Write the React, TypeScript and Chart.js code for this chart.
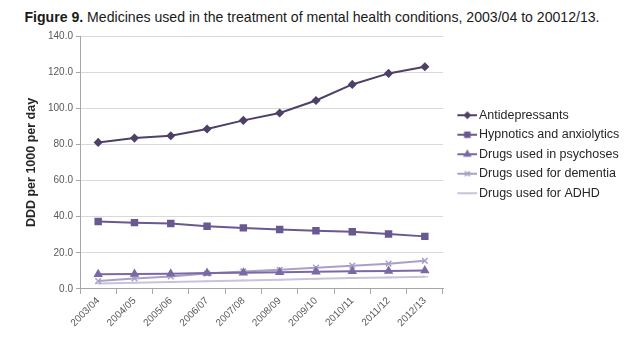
import React, { useEffect, useRef } from 'react';
import { Chart, registerables } from 'chart.js';
import { drawPoint } from 'chart.js/helpers';

Chart.register(...registerables);

const categories = ['2003/04', '2004/05', '2005/06', '2006/07', '2007/08', '2008/09', '2009/10', '2010/11', '2011/12', '2012/13'];
const seriesNames = ['Antidepressants', 'Hypnotics and anxiolytics', 'Drugs used in psychoses', 'Drugs used for dementia', 'Drugs used for ADHD'];
const antidepressants = [81.1, 83.5, 84.8, 88.5, 93.3, 97.4, 104.3, 113.2, 119.3, 123.0];
const hypnotics = [37.3, 36.7, 36.2, 34.7, 33.8, 32.9, 32.2, 31.7, 30.4, 29.1];
const psychoses = [8.2, 8.3, 8.4, 8.8, 9.0, 9.3, 9.5, 9.8, 10.0, 10.2];
const dementia = [4.4, 5.8, 6.9, 8.5, 9.7, 10.6, 11.8, 12.9, 14.0, 15.6];
const adhd = [3.0, 3.4, 3.8, 4.2, 4.7, 5.1, 5.6, 6.0, 6.4, 6.8];
const yMin = 0;
const yMax = 140;
const yStep = 20;
const yTitle = 'DDD per 1000 per day';

const FONT = "'Liberation Sans', Arial, sans-serif";

const styles = [
  { color: '#4e4066', point: 'rectRot', radius: 3.5 },
  { color: '#6a5890', point: 'rect', radius: 4.2 },
  { color: '#7b69a6', point: 'triangle', radius: 4 },
  { color: '#aaa0c6', point: 'crossRot', radius: 4 },
  { color: '#c9c3da', point: 'line', radius: 3 },
];

function legendIcon(color: string, pointStyle: string, radius: number) {
  const c = document.createElement('canvas');
  c.width = 32;
  c.height = 12;
  const ctx = c.getContext('2d')!;
  ctx.strokeStyle = color;
  ctx.fillStyle = color;
  ctx.lineWidth = 2;
  ctx.beginPath();
  ctx.moveTo(12, 6);
  ctx.lineTo(32, 6);
  ctx.stroke();
  ctx.lineWidth = 1.5;
  drawPoint(ctx, { pointStyle, radius: radius * 0.85, rotation: 0, borderWidth: 1.5 } as any, 22, 6);
  return c;
}

export default function App() {
  const ref = useRef<HTMLCanvasElement>(null);
  useEffect(() => {
    const values = [antidepressants, hypnotics, psychoses, dementia, adhd];
    const icons = styles.map((s) => legendIcon(s.color, s.point, s.radius));
    const chart = new Chart(ref.current!, {
      type: 'line',
      data: {
        labels: categories,
        datasets: values.map((v, i) => ({
          label: seriesNames[i],
          data: v,
          borderColor: styles[i].color,
          backgroundColor: styles[i].color,
          pointBackgroundColor: styles[i].color,
          pointBorderColor: styles[i].color,
          pointStyle: styles[i].point as any,
          pointRadius: styles[i].radius,
          pointBorderWidth: 1.5,
          borderWidth: 2,
          tension: 0,
        })),
      },
      options: {
        responsive: false,
        animation: false,
        layout: { padding: { top: 36, left: 24, right: 0, bottom: 21 } },
        plugins: {
          tooltip: { enabled: false },
          title: { display: false },
          legend: {
            position: 'right',
            align: 'start',
            fullSize: false,
            maxWidth: 181,
            title: { display: true, text: ' ', font: { size: 10, family: FONT }, padding: { top: 54, bottom: 0 } },
            labels: {
              usePointStyle: true,
              pointStyleWidth: 22.75,
              padding: 7,
              color: '#262626',
              font: { size: 12.5, family: FONT },
              generateLabels: (ch: any) =>
                ch.data.datasets.map((d: any, i: number) => ({
                  text: d.label,
                  pointStyle: icons[i],
                  fillStyle: styles[i].color,
                  strokeStyle: styles[i].color,
                  lineWidth: 0,
                  hidden: false,
                  datasetIndex: i,
                  fontColor: '#262626',
                })),
            },
          },
        },
        scales: {
          x: {
            offset: true,
            grid: { offset: true, drawOnChartArea: false, tickLength: 5, color: '#a6a6a6' },
            border: { color: '#a6a6a6' },
            ticks: { minRotation: 45, maxRotation: 45, color: '#595959', font: { size: 10, family: FONT }, padding: 1 },
          },
          y: {
            min: yMin,
            max: yMax,
            ticks: {
              stepSize: yStep,
              color: '#595959',
              font: { size: 10, family: FONT },
              padding: 3,
              callback: (v: any) => Number(v).toFixed(1),
            },
            grid: { color: '#d9d9d9', tickColor: '#a6a6a6', tickLength: 4 },
            border: { color: '#a6a6a6' },
            title: { display: true, text: yTitle, color: '#262626', font: { size: 12.5, weight: 'bold', family: FONT }, padding: { top: 0, bottom: 6 } },
          },
        },
      },
    });
    return () => chart.destroy();
  }, []);

  return (
    <div style={{ position: 'absolute', left: 0, top: 0, width: 624, height: 351, background: '#fff' }}>
      <div
        style={{
          position: 'absolute',
          left: 0,
          top: 8,
          width: 624,
          textAlign: 'center',
          fontFamily: FONT,
          fontSize: 14.1,
          lineHeight: '18px',
          color: '#1a1a1a',
          whiteSpace: 'nowrap',
        }}
      >
        <b>Figure 9.</b> Medicines used in the treatment of mental health conditions, 2003/04 to 20012/13.
      </div>
      <canvas ref={ref} width={624} height={351} style={{ position: 'absolute', left: 0, top: 0 }} />
    </div>
  );
}
